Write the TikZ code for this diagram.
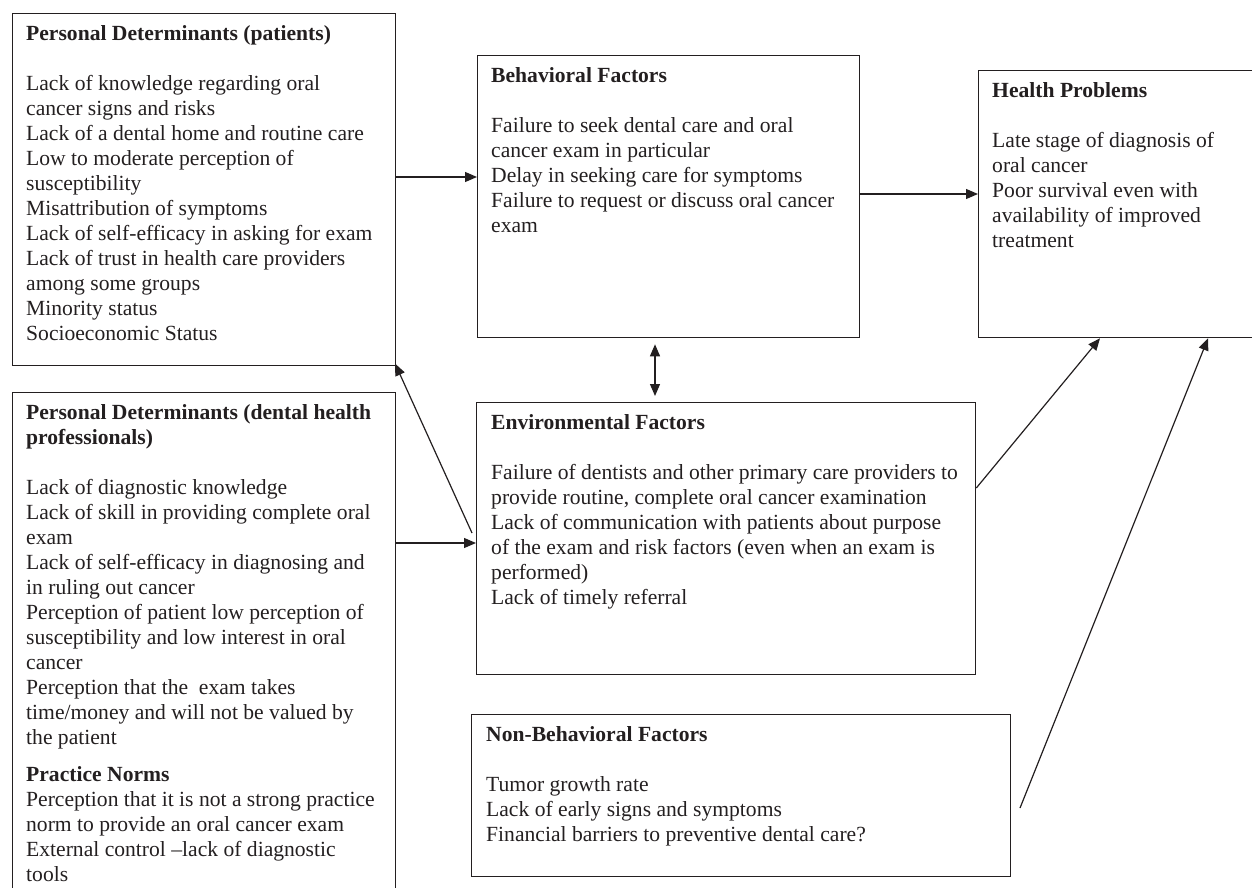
\documentclass[tikz,border=0pt]{standalone}
\usepackage{fontspec}
\setmainfont{Liberation Serif}
\usetikzlibrary{arrows.meta,calc}
\definecolor{ink}{HTML}{231F20}
\begin{document}
\begin{tikzpicture}[x=1pt,y=-1pt,
 box/.style={draw=ink, line width=1.3pt, inner sep=0pt, anchor=north west},
 txt/.style={anchor=north west, inner sep=0pt, align=left, text=ink, font=\fontsize{21.6}{25}\selectfont, xshift=14pt, yshift=-12.5pt},
 arr/.style={draw=ink, line width=1.2pt, -{Triangle[length=12pt,width=10pt]}},
 arrtwo/.style={draw=ink, line width=1.2pt, {Triangle[length=12pt,width=10pt]}-{Triangle[length=12pt,width=10pt]}}]
\useasboundingbox (0,0) rectangle (1252,888);

% boxes
\node[box, minimum width=383pt, minimum height=352pt] (P) at (12,13) {};
\node[box, minimum width=383pt, minimum height=508pt] (D) at (12,392) {};
\node[box, minimum width=382pt, minimum height=282pt] (B) at (477,55) {};
\node[box, minimum width=284pt, minimum height=267pt] (H) at (978,70) {};
\node[box, minimum width=499pt, minimum height=272pt] (E) at (476,402) {};
\node[box, minimum width=539pt, minimum height=162pt] (N) at (471,714) {};

% texts
\node[txt] (Pt) at (P.north west) {\rule{0pt}{15pt}\textbf{Personal Determinants (patients)}\\[25pt]
Lack of knowledge regarding oral\\
cancer signs and risks\\
Lack of a dental home and routine care\\
Low to moderate perception of\\
susceptibility\\
Misattribution of symptoms\\
Lack of self-efficacy in asking for exam\\
Lack of trust in health care providers\\
among some groups\\
Minority status\\
Socioeconomic Status};

\node[txt] (Dt) at (D.north west) {\rule{0pt}{15pt}\textbf{Personal Determinants (dental health}\\
\textbf{professionals)}\\[25pt]
Lack of diagnostic knowledge\\
Lack of skill in providing complete oral\\
exam\\
Lack of self-efficacy in diagnosing and\\
in ruling out cancer\\
Perception of patient low perception of\\
susceptibility and low interest in oral\\
cancer\\
Perception that the~ exam takes\\
time/money and will not be valued by\\
the patient\\[12pt]
\textbf{Practice Norms}\\
Perception that it is not a strong practice\\
norm to provide an oral cancer exam\\
External control --lack of diagnostic\\
tools};

\node[txt] (Bt) at (B.north west) {\rule{0pt}{15pt}\textbf{Behavioral Factors}\\[25pt]
Failure to seek dental care and oral\\
cancer exam in particular\\
Delay in seeking care for symptoms\\
Failure to request or discuss oral cancer\\
exam};

\node[txt] (Ht) at (H.north west) {\rule{0pt}{15pt}\textbf{Health Problems}\\[25pt]
Late stage of diagnosis of\\
oral cancer\\
Poor survival even with\\
availability of improved\\
treatment};

\node[txt, xshift=1pt] (Et) at (E.north west) {\rule{0pt}{15pt}\textbf{Environmental Factors}\\[25pt]
Failure of dentists and other primary care providers to\\
provide routine, complete oral cancer examination\\
Lack of communication with patients about purpose\\
of the exam and risk factors (even when an exam is\\
performed)\\
Lack of timely referral};

\node[txt, xshift=1pt] (Nt) at (N.north west) {\rule{0pt}{15pt}\textbf{Non-Behavioral Factors}\\[25pt]
Tumor growth rate\\
Lack of early signs and symptoms\\
Financial barriers to preventive dental care?};

% connectors
\coordinate (a1) at (0,177);
\draw[arr] (P.east |- a1) -- (B.west |- a1);
\coordinate (a2) at (0,194);
\draw[arr] (B.east |- a2) -- (H.west |- a2);
\coordinate (a3) at (0,543);
\draw[arr] (D.east |- a3) -- (E.west |- a3);
\coordinate (a4) at (472,533);
\draw[arr, shorten >=-3pt] (a4) -- (P.south east);
\coordinate (a5) at (655,0);
\draw[arrtwo, shorten <=6pt, shorten >=6pt] (B.south -| a5) -- (E.north -| a5);
\coordinate (a6) at (0,488);
\coordinate (h6) at (1100,0);
\draw[arr] (E.east |- a6) -- (H.south -| h6);
\coordinate (n7) at (1020,808);
\coordinate (h7) at (1208,0);
\draw[arr] (n7) -- (H.south -| h7);
\end{tikzpicture}
\end{document}
